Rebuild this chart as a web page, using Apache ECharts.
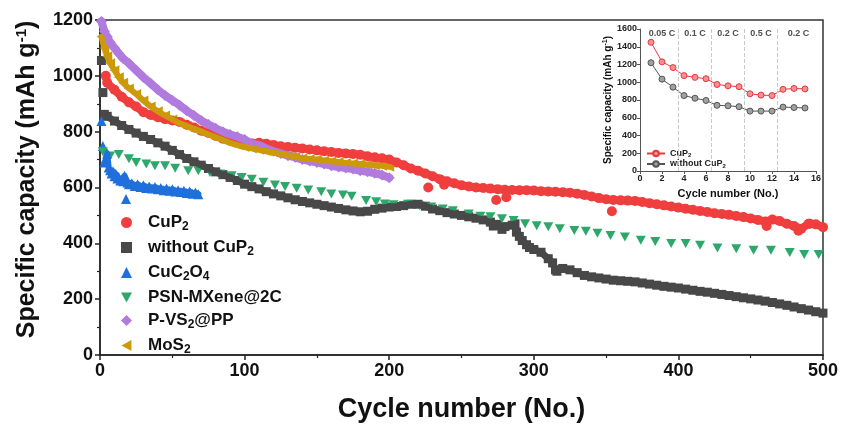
<!DOCTYPE html>
<html>
<head>
<meta charset="utf-8">
<script src="https://cdn.jsdelivr.net/npm/echarts@6/dist/echarts.min.js"></script>
<style>
  html, body { margin: 0; padding: 0; background: #fff; }
  #chart { width: 842px; height: 428px; }
</style>
</head>
<body>
<div id="chart"></div>
<script>
// ---- main plot data (cycle number, capacity in mAh/g) ----
const cupCycles = [4,5,10,15,20,25,30,35,40,45,50,55,60,65,70,75,80,85,90,95,100,105,110,115,120,125,130,135,140,145,150,155,160,165,170,175,180,185,190,195,200,205,210,215,220,225,230,235,240,245,250,255,260,265,270,275,280,285,290,295,300,305,310,315,320,325,330,335,340,345,350,355,360,365,370,375,380,385,390,395,400,405,410,415,420,425,430,435,440,445,450,455,460,465,470,475,480,485,490,495,500];
const cupCap = [1000,975,950,925,905,890,870,860,852,845,840,835,825,815,803,795,785,775,768,765,762,758,760,757,752,748,745,742,740,736,733,730,727,724,722,720,717,712,708,705,700,690,680,668,660,650,640,630,622,615,608,604,600,598,596,594,592,591,590,590,589,587,586,585,583,581,578,573,568,562,558,555,554,553,552,548,544,540,536,532,528,524,520,516,512,508,505,502,498,494,489,484,478,485,480,470,462,452,470,468,458];
const cupOutCycles = [227,238,274,281,354,461,483,491];
const cupOutCap = [600,610,555,565,515,462,445,470];

const noCupCycles = [1,2,3,5,10,15,20,25,30,35,40,45,50,55,60,65,70,75,80,85,90,95,100,105,110,115,120,125,130,135,140,145,150,155,160,165,170,175,180,185,190,195,200,205,210,215,220,225,230,235,240,245,250,255,260,265,270,272,275,278,280,285,287,288,290,292,295,297,300,305,310,313,315,316,320,325,330,335,340,345,350,355,360,365,370,375,380,385,390,395,400,405,410,415,420,425,430,435,440,445,450,455,460,465,470,475,480,485,490,495,500];
const noCupCap = [1055,940,862,855,838,822,808,795,783,772,760,748,733,718,704,692,680,668,656,646,636,625,612,603,595,585,577,570,563,556,550,545,540,535,530,525,520,516,513,515,522,526,530,532,535,540,540,533,523,517,510,505,500,495,490,484,476,462,468,450,460,465,470,440,425,410,395,385,378,368,345,330,305,300,310,305,295,285,280,276,272,268,266,264,262,258,254,250,246,243,240,236,232,228,225,221,217,213,209,205,201,197,193,188,183,178,172,166,161,155,150];

const oxCycles = [1,2,3,4,5,6,7,8,9,10,11,12,13,14,15,16,17,19,20,22,24,26,28,30,32,34,36,38,40,42,44,46,48,50,52,54,56,58,60,62,64,66,68];
const oxCap = [838,749,690,705,722,672,662,650,658,640,648,632,638,625,630,622,642,618,612,615,605,612,602,608,598,604,596,602,594,598,590,596,588,594,586,590,584,588,580,586,578,582,576];
const oxOutCycles = [18];
const oxOutCap = [559];

const mxCycles = [2,7,13,20,25,32,38,45,52,61,68,76,83,91,98,105,113,121,128,136,144,153,160,168,174,184,191,197,203,213,221,229,237,244,255,263,270,278,286,294,302,310,318,328,336,344,353,363,374,384,395,405,415,427,440,452,464,477,487,497];
const mxCap = [728,713,718,703,690,684,678,678,669,660,660,654,648,642,636,630,619,609,604,597,591,585,577,573,569,553,549,541,538,540,535,530,523,517,505,497,495,488,482,470,463,459,452,446,443,436,428,423,411,407,399,399,393,383,381,375,375,367,360,360];

const vsCycles = [1,3,5,7,10,13,16,20,25,30,35,40,45,50,55,60,65,70,75,80,85,90,95,100,105,110,115,120,125,130,135,140,145,150,155,160,165,170,175,180,185,190,195,200];
const vsCap = [1195,1160,1140,1120,1100,1080,1062,1045,1020,995,973,950,930,912,895,875,858,840,826,812,800,790,782,772,757,752,740,730,722,714,708,700,695,690,684,678,673,670,666,660,656,651,645,635];

const mosCycles = [1,3,5,7,10,13,16,20,25,30,35,40,45,50,55,60,65,70,75,80,85,90,95,100,105,110,115,120,125,130,135,140,145,150,155,160,165,170,175,180,185,190,195,200];
const mosCap = [1140,1100,1070,1045,1020,995,975,955,935,912,890,873,858,844,830,820,810,800,790,780,770,760,752,745,740,735,730,725,720,715,710,705,702,700,697,694,691,688,686,684,682,680,678,674];

// ---- inset (rate test) ----
const insetCycles = [1,2,3,4,5,6,7,8,9,10,11,12,13,14,15];
const insetCup = [1450,1230,1165,1075,1055,1040,975,960,950,870,855,850,920,930,925];
const insetNoCup = [1220,1035,945,850,820,795,740,735,725,675,675,675,720,715,710];
const rateBounds = [3.5, 6.5, 9.5, 12.5];
const rateLabels = ['0.05 C', '0.1 C', '0.2 C', '0.5 C', '0.2 C'];
const rateLabelX = [2, 5, 8, 11, 14.4];
const rateLabelY = 1545;

const FONT = 'Liberation Sans, Arial, sans-serif';
const zip = (xs, ys) => xs.map((x, i) => [x, ys[i]]);

// names with subscripts as rich text
const richNames = {
  'CuP2': '{t|CuP}{s|2}',
  'without CuP2': '{t|without CuP}{s|2}',
  'CuC2O4': '{t|CuC}{s|2}{t|O}{s|4}',
  'PSN-MXene@2C': '{t|PSN-MXene@2C}',
  'P-VS2@PP': '{t|P-VS}{s|2}{t|@PP}',
  'MoS2': '{t|MoS}{s|2}'
};
function mainLegendText(name) { return '{g|}' + richNames[name]; }
function insetLegendText(name) { return richNames[name.replace(/^inset /, '')]; }

const chart = echarts.init(document.getElementById('chart'), null, { renderer: 'canvas' });

function scatter(name, data, symbol, color, size, rotate) {
  return {
    name: name, type: 'scatter', data: data,
    xAxisIndex: 0, yAxisIndex: 0,
    symbol: symbol, symbolSize: size, symbolRotate: rotate || 0,
    itemStyle: { color: color, opacity: 1 },
    silent: true
  };
}

// thick core line under the dense markers so the band reads as solid
function band(name, data, color, width) {
  return {
    name: name, type: 'line', data: data,
    xAxisIndex: 0, yAxisIndex: 0,
    showSymbol: false, symbol: 'none', silent: true,
    lineStyle: { color: color, width: width, cap: 'round', join: 'round' },
    itemStyle: { color: color }
  };
}

function insetLine(name, data, line, fill) {
  return {
    name: name, type: 'line', data: data,
    xAxisIndex: 1, yAxisIndex: 1,
    symbol: 'circle', symbolSize: 6, showSymbol: true,
    lineStyle: { color: line, width: 1 },
    itemStyle: { color: fill, borderColor: line, borderWidth: 1 },
    silent: true
  };
}

const axisLineStyle = { color: '#222', width: 1.5 };
const plainNum = v => String(v);

const C_CUP = '#f03e3e', C_NO = '#484848', C_OX = '#1f6fdc', C_MX = '#2ea86a', C_VS = '#b07ade', C_MOS = '#cc9a08';

const option = {
  animation: false,
  backgroundColor: '#fff',
  textStyle: { fontFamily: FONT },
  grid: [
    { left: 100, right: 19, top: 20, bottom: 71, show: true, borderColor: '#333', borderWidth: 1.5 },
    { left: 640, right: 26, top: 29, bottom: 257 }
  ],
  legend: [
    {
      data: [
        { name: 'CuP2', icon: 'circle' },
        { name: 'without CuP2', icon: 'rect' },
        { name: 'CuC2O4', icon: 'triangle' },
        { name: 'PSN-MXene@2C', icon: 'path://M0,0 L10,0 L5,9 Z' },
        { name: 'P-VS2@PP', icon: 'diamond' },
        { name: 'MoS2', icon: 'path://M9,0 L9,10 L0,5 Z' }
      ],
      orient: 'vertical', left: 116, top: 209,
      itemWidth: 11, itemHeight: 11, itemGap: 6,
      formatter: mainLegendText,
      textStyle: {
        rich: {
          g: { width: 11 },
          t: { fontFamily: FONT, fontSize: 17, fontWeight: 'bold', color: '#111' },
          s: { fontFamily: FONT, fontSize: 12, fontWeight: 'bold', color: '#111', padding: [9, 0, 0, 0] }
        }
      }
    },
    {
      data: ['inset CuP2', 'inset without CuP2'],
      orient: 'vertical', left: 641, top: 144,
      itemWidth: 18, itemHeight: 7, itemGap: 1,
      formatter: insetLegendText,
      textStyle: {
        rich: {
          t: { fontFamily: FONT, fontSize: 9, fontWeight: 'bold', color: '#222' },
          s: { fontFamily: FONT, fontSize: 6, fontWeight: 'bold', color: '#222', padding: [4, 0, 0, 0] }
        }
      }
    }
  ],
  xAxis: [
    {
      gridIndex: 0, type: 'value', min: 0, max: 500, interval: 100,
      name: 'Cycle number (No.)', nameLocation: 'middle', nameGap: 41,
      nameTextStyle: { fontFamily: FONT, fontSize: 27, fontWeight: 'bold', color: '#111' },
      axisLine: { show: true, onZero: false, lineStyle: axisLineStyle },
      axisTick: { show: true, inside: false, length: 5, lineStyle: axisLineStyle },
      minorTick: { show: true, splitNumber: 2, length: 3, lineStyle: { color: '#222', width: 1.2 } },
      axisLabel: { fontFamily: FONT, fontSize: 18, fontWeight: 'bold', color: '#111', margin: 7, formatter: plainNum },
      splitLine: { show: false }
    },
    {
      gridIndex: 1, type: 'value', min: 0, max: 16, interval: 2,
      name: 'Cycle number (No.)', nameLocation: 'middle', nameGap: 17,
      nameTextStyle: { fontFamily: FONT, fontSize: 11, fontWeight: 'bold', color: '#111' },
      axisLine: { show: true, onZero: false, lineStyle: { color: '#555', width: 1 } },
      axisTick: { show: true, length: 3, lineStyle: { color: '#555' } },
      axisLabel: { fontFamily: FONT, fontSize: 9, fontWeight: 'bold', color: '#222', margin: 3, formatter: plainNum },
      splitLine: { show: false }
    }
  ],
  yAxis: [
    {
      gridIndex: 0, type: 'value', min: 0, max: 1200, interval: 200,
      name: '{t|Specific capacity (mAh g}{p|-1}{t|)}', nameLocation: 'middle', nameGap: 60, nameRotate: 90,
      nameTextStyle: {
        padding: [0, 0, 0, 16],
        rich: {
          t: { fontFamily: FONT, fontSize: 25, fontWeight: 'bold', color: '#111' },
          p: { fontFamily: FONT, fontSize: 15, fontWeight: 'bold', color: '#111', padding: [0, 0, 11, 0] }
        }
      },
      axisLine: { show: true, onZero: false, lineStyle: axisLineStyle },
      axisTick: { show: true, inside: false, length: 5, lineStyle: axisLineStyle },
      minorTick: { show: true, splitNumber: 2, length: 3, lineStyle: { color: '#222', width: 1.2 } },
      axisLabel: { fontFamily: FONT, fontSize: 18, fontWeight: 'bold', color: '#111', margin: 7, formatter: plainNum },
      splitLine: { show: false }
    },
    {
      gridIndex: 1, type: 'value', min: 0, max: 1600, interval: 200,
      name: '{t|Specific capacity (mAh g}{p|-1}{t|)}', nameLocation: 'middle', nameGap: 26, nameRotate: 90,
      nameTextStyle: {
        rich: {
          t: { fontFamily: FONT, fontSize: 10, fontWeight: 'bold', color: '#111' },
          p: { fontFamily: FONT, fontSize: 7, fontWeight: 'bold', color: '#111', padding: [0, 0, 5, 0] }
        }
      },
      axisLine: { show: true, onZero: false, lineStyle: { color: '#555', width: 1 } },
      axisTick: { show: true, length: 3, lineStyle: { color: '#555' } },
      axisLabel: { fontFamily: FONT, fontSize: 9, fontWeight: 'bold', color: '#222', margin: 3, formatter: plainNum },
      splitLine: { show: false }
    }
  ],
  series: [
    scatter('without CuP2', zip(noCupCycles, noCupCap), 'rect', C_NO, 9),
    band('without CuP2', zip(noCupCycles.slice(2), noCupCap.slice(2)), C_NO, 7),
    scatter('CuP2', zip(cupCycles, cupCap), 'circle', C_CUP, 10),
    band('CuP2', zip(cupCycles, cupCap), C_CUP, 8),
    scatter('CuP2', zip(cupOutCycles, cupOutCap), 'circle', C_CUP, 10),
    band('CuC2O4', zip(oxCycles.slice(3), oxCap.slice(3)), C_OX, 6),
    scatter('CuC2O4', zip(oxCycles, oxCap), 'triangle', C_OX, 10),
    scatter('CuC2O4', zip(oxOutCycles, oxOutCap), 'triangle', C_OX, 10),
    scatter('PSN-MXene@2C', zip(mxCycles, mxCap), 'triangle', C_MX, [10, 9], 180),
    band('P-VS2@PP', zip(vsCycles, vsCap), C_VS, 8),
    scatter('P-VS2@PP', zip(vsCycles, vsCap), 'diamond', C_VS, 11),
    band('MoS2', zip(mosCycles, mosCap), C_MOS, 6),
    scatter('MoS2', zip(mosCycles, mosCap), 'triangle', C_MOS, 10, 90),
    Object.assign(insetLine('inset CuP2', zip(insetCycles, insetCup), '#e8383d', '#f49090'), {
      markLine: {
        silent: true, symbol: 'none', label: { show: false },
        lineStyle: { type: 'dashed', color: '#c8c8c8', width: 1 },
        data: rateBounds.map(x => ({ xAxis: x }))
      }
    }),
    insetLine('inset without CuP2', zip(insetCycles, insetNoCup), '#555555', '#a0a0a0'),
    {
      name: 'rates', type: 'scatter', xAxisIndex: 1, yAxisIndex: 1,
      symbolSize: 0, silent: true,
      data: rateLabels.map((t, i) => ({ name: t, value: [rateLabelX[i], rateLabelY] })),
      label: {
        show: true, position: 'inside', formatter: p => p.name,
        fontFamily: FONT, fontSize: 9, fontWeight: 'bold', color: '#222'
      }
    }
  ]
};

chart.setOption(option);
</script>
</body>
</html>
